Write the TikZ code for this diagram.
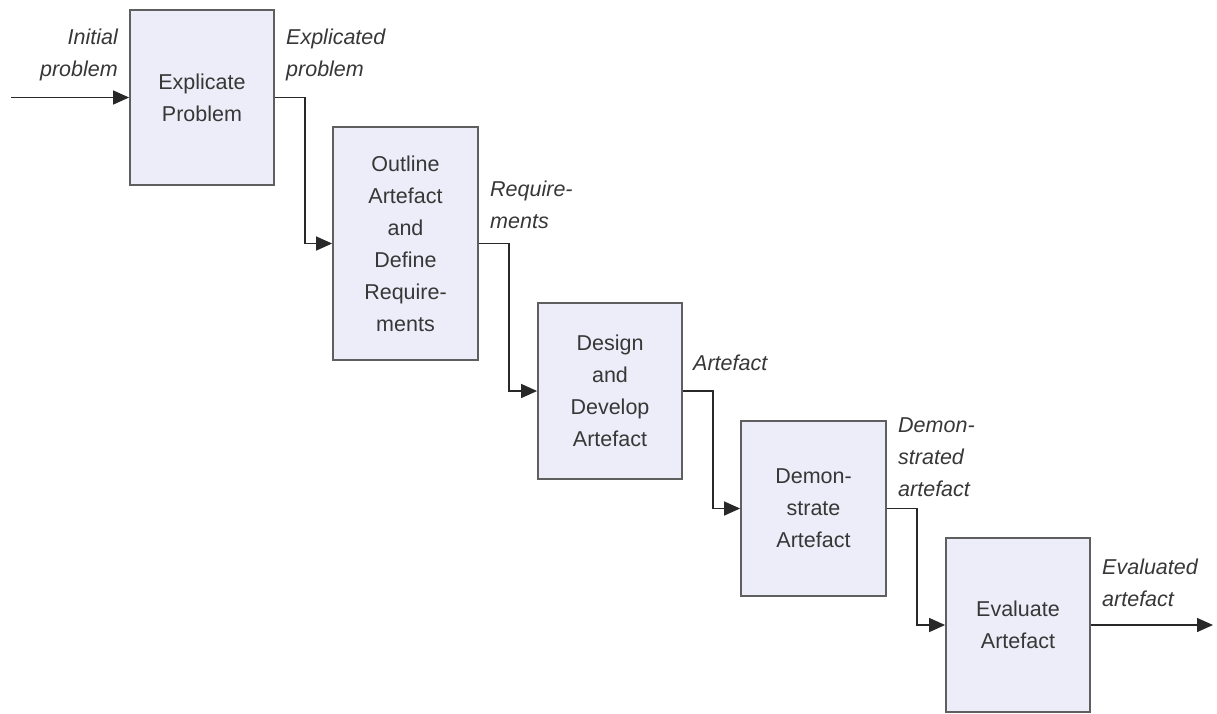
\documentclass[tikz,border=0pt]{standalone}
\usepackage{fontspec}
\setmainfont{Liberation Sans}
\usetikzlibrary{arrows.meta}
\definecolor{boxfill}{RGB}{236,237,248}
\definecolor{boxline}{RGB}{95,95,95}
\definecolor{txt}{RGB}{55,55,55}
\definecolor{conn}{RGB}{40,40,40}
\tikzset{
  stepbox/.style={draw=boxline, line width=1.8pt, fill=boxfill, inner sep=0pt,
    align=center, text=txt, font=\fontsize{21.5}{32}\selectfont},
  lbl/.style={inner sep=0pt, text=txt, font=\fontsize{21.5}{32}\selectfont\itshape},
  conn/.style={draw=conn, line width=1.4pt, -{Triangle[length=16pt,width=14pt]}}
}
\begin{document}
\begin{tikzpicture}[x=1pt,y=-1pt]
\useasboundingbox (0,0) rectangle (1217,713);
\node[stepbox, minimum width=144pt, minimum height=175pt] (b1) at (202,97.5) {Explicate\\Problem};
\node[stepbox, minimum width=145pt, minimum height=233pt] (b2) at (405.5,243.5) {Outline\\Artefact\\and\\Define\\Require-\\ments};
\node[stepbox, minimum width=144pt, minimum height=176pt] (b3) at (610,391) {Design\\and\\Develop\\Artefact};
\node[stepbox, minimum width=145pt, minimum height=175pt] (b4) at (813.5,508.5) {Demon-\\strate\\Artefact};
\node[stepbox, minimum width=144pt, minimum height=174pt] (b5) at (1018,625) {Evaluate\\Artefact};

\coordinate (start) at (11,97.5);
\coordinate (end) at (1213,625);

\draw[conn] (start) -- (b1.west);
\draw[conn] (b1.east) -- ++(30,0) |- (b2.west);
\draw[conn] (b2.east) -- ++(30,0) |- (b3.west);
\draw[conn] (b3.east) -- ++(30,0) |- (b4.west);
\draw[conn] (b4.east) -- ++(30,0) |- (b5.west);
\draw[conn] (b5.east) -- (end);

\node[lbl, anchor=north east, align=right] (l0) at (118,29) {Initial\\problem};
\node[lbl, anchor=north west, align=left] (l1) at (286,29) {Explicated\\problem};
\node[lbl, anchor=north west, align=left] (l2) at (490,181) {Require-\\ments};
\node[lbl, anchor=north west, align=left] (l3) at (693,355) {Artefact};
\node[lbl, anchor=north west, align=left] (l4) at (898,417) {Demon-\\strated\\artefact};
\node[lbl, anchor=north west, align=left] (l5) at (1102,559) {Evaluated\\artefact};
\end{tikzpicture}
\end{document}
